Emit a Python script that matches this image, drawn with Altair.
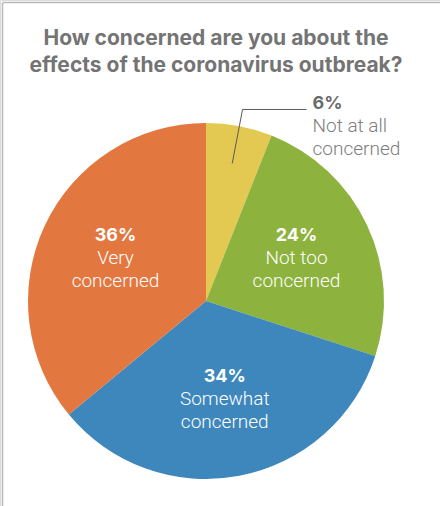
import altair as alt
import pandas as pd

# Survey responses, in clockwise order starting at 12 o'clock
categories = ["Not at all concerned", "Not too concerned", "Somewhat concerned", "Very concerned"]
shares = [6, 24, 34, 36]
number_labels = ["6%", "24%", "34%", "36%"]
desc_labels = ["Not at all\nconcerned", "Not too\nconcerned", "Somewhat\nconcerned", "Very\nconcerned"]
colors = ["#E3C952", "#8DB23E", "#3E87BD", "#E37740"]

title_lines = ["How concerned are you about the", "effects of the coronavirus outbreak?"]

# Layout constants (pixels)
W, H = 440, 506
CX, CY, R = 206, 301, 178
LABEL_R = 100
LEADER_IN, LEADER_OUT, LEADER_RUN = 140, 195, 64
FONT = "Inter"
LIGHT_FONT = "Roboto"
GREY_DARK = "#6b6b6b"
GREY_LIGHT = "#7d7d7d"

df = pd.DataFrame({
    "category": categories,
    "share": shares,
    "num": number_labels,
    "desc": desc_labels,
    "idx": list(range(len(categories))),
})
one_row = pd.DataFrame({"k": [0]})

base = alt.Chart(df).encode(
    theta=alt.Theta("share:Q", stack=True),
    order=alt.Order("idx:Q", sort="ascending"),
    x=alt.value(CX),
    y=alt.value(CY),
)

pie = base.mark_arc(radius=R).encode(
    color=alt.Color("category:N", scale=alt.Scale(domain=categories, range=colors), legend=None)
)

inside = base.transform_calculate(
    inner_num="datum.share >= 10 ? datum.num : ''",
    inner_desc="datum.share >= 10 ? datum.desc : ''",
)

num_text = inside.mark_text(
    radius=LABEL_R, font=FONT, fontSize=18, fontWeight="bold", color="white",
    baseline="alphabetic", dy=-17,
).encode(text="inner_num:N")

desc_text = inside.mark_text(
    radius=LABEL_R, font=LIGHT_FONT, fontSize=19, fontWeight=300, color="white",
    baseline="alphabetic", dy=6, lineBreak="\n", lineHeight=22.5,
).encode(text="inner_desc:N")

# Small slice: label outside with a leader line
outer = (
    alt.Chart(df)
    .transform_joinaggregate(total="sum(share)")
    .transform_window(cum="sum(share)", sort=[alt.SortField("idx")], frame=[None, 0])
    .transform_calculate(mid="2 * PI * (datum.cum - datum.share / 2) / datum.total")
    .transform_filter("datum.share < 10")
    .transform_calculate(
        xa=f"{CX} + {LEADER_IN} * sin(datum.mid)",
        ya=f"{CY} - {LEADER_IN} * cos(datum.mid)",
        xb=f"{CX} + {LEADER_OUT} * sin(datum.mid)",
        yb=f"{CY} - {LEADER_OUT} * cos(datum.mid)",
        xc=f"{CX} + {LEADER_OUT} * sin(datum.mid) + {LEADER_RUN}",
    )
)

leader_diag = outer.mark_rule(color="#5a5a5a", strokeWidth=1).encode(
    x=alt.X("xa:Q", scale=None, axis=None),
    y=alt.Y("ya:Q", scale=None, axis=None),
    x2="xb:Q",
    y2="yb:Q",
)
leader_flat = outer.mark_rule(color="#5a5a5a", strokeWidth=1).encode(
    x=alt.X("xb:Q", scale=None, axis=None),
    y=alt.Y("yb:Q", scale=None, axis=None),
    x2="xc:Q",
)
out_num = outer.mark_text(
    font=FONT, fontSize=18, fontWeight="bold", color=GREY_DARK,
    align="left", baseline="alphabetic", dx=70, dy=0,
).encode(
    x=alt.X("xb:Q", scale=None, axis=None),
    y=alt.Y("yb:Q", scale=None, axis=None),
    text="num:N",
)
out_desc = outer.mark_text(
    font=LIGHT_FONT, fontSize=19, fontWeight=300, color=GREY_LIGHT,
    align="left", baseline="alphabetic", dx=70, dy=23, lineBreak="\n", lineHeight=22.5,
).encode(
    x=alt.X("xb:Q", scale=None, axis=None),
    y=alt.Y("yb:Q", scale=None, axis=None),
    text="desc:N",
)

title = alt.Chart(one_row).mark_text(
    text=title_lines, font=FONT, fontSize=21, fontWeight="bold", color="#747474",
    align="center", baseline="alphabetic", lineHeight=27,
).encode(x=alt.value(216), y=alt.value(45))

# Frame lines along the top and left edges
frame_top = alt.Chart(one_row).mark_rule(color="#b8b8b8", strokeWidth=1.5).encode(
    x=alt.value(2.5), x2=alt.value(W), y=alt.value(2.5)
)
frame_left = alt.Chart(one_row).mark_rule(color="#b8b8b8", strokeWidth=1.5).encode(
    x=alt.value(2.5), y=alt.value(2.5), y2=alt.value(H)
)

chart = alt.layer(
    frame_top, frame_left, title, pie, num_text, desc_text,
    leader_diag, leader_flat, out_num, out_desc,
).properties(
    width=W, height=H, autosize=alt.AutoSizeParams(type="none"), padding=0,
).configure_view(stroke=None).configure(background="white")

chart.save("out.html", embed_options={"renderer": "svg", "actions": False})
